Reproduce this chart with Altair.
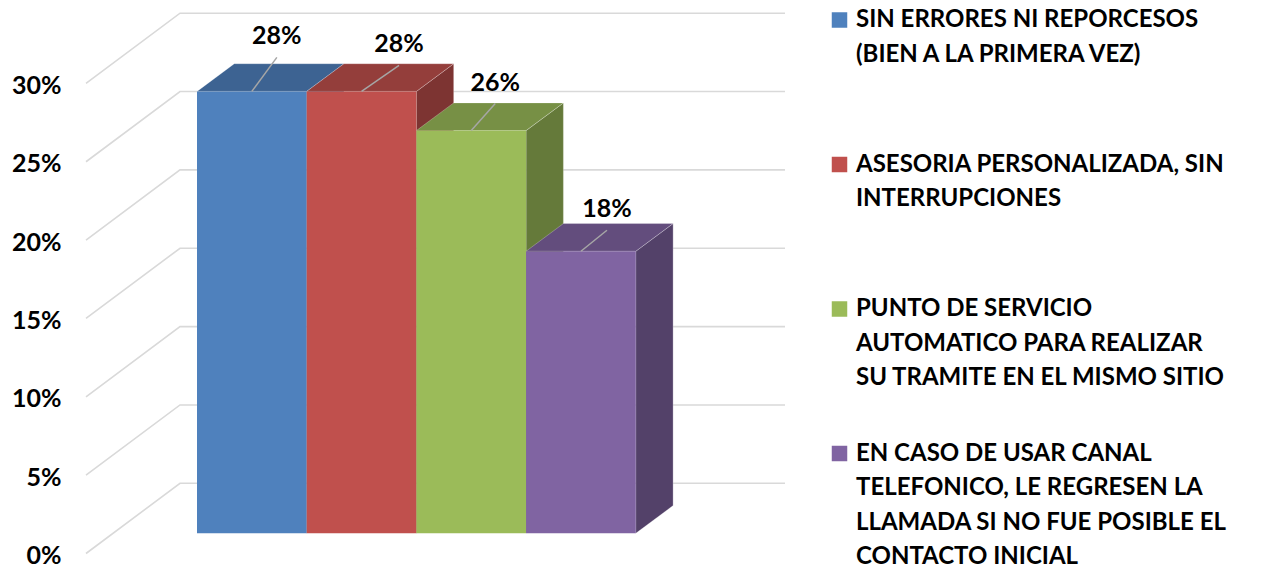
import altair as alt
import pandas as pd

# ---------------- data ----------------
categories = [
    "SIN ERRORES NI REPORCESOS (BIEN A LA PRIMERA VEZ)",
    "ASESORIA PERSONALIZADA, SIN INTERRUPCIONES",
    "PUNTO DE SERVICIO AUTOMATICO PARA REALIZAR SU TRAMITE EN EL MISMO SITIO",
    "EN CASO DE USAR CANAL TELEFONICO, LE REGRESEN LA LLAMADA SI NO FUE POSIBLE EL CONTACTO INICIAL",
]
values = [28.2, 28.2, 25.7, 18.0]
value_labels = ["28%", "28%", "26%", "18%"]
legend_lines = [
    ["SIN ERRORES NI REPORCESOS", "(BIEN A LA PRIMERA VEZ)"],
    ["ASESORIA PERSONALIZADA, SIN", "INTERRUPCIONES"],
    ["PUNTO DE SERVICIO", "AUTOMATICO PARA REALIZAR", "SU TRAMITE EN EL MISMO SITIO"],
    ["EN CASO DE USAR CANAL", "TELEFONICO, LE REGRESEN LA",
     "LLAMADA SI NO FUE POSIBLE EL", "CONTACTO INICIAL"],
]
axis_ticks = [0, 5, 10, 15, 20, 25, 30]

# ---------------- style ----------------
front_colors = ["#4F81BD", "#C0504D", "#9BBB59", "#8064A2"]
top_colors = ["#3D6392", "#943E3B", "#779045", "#634D7D"]
side_colors = ["#33537B", "#7D3432", "#657A3A", "#534169"]
GRID = "#D9D9D9"
LEADER = "#A6A6A6"
FONT = "Lato"

# ---------------- layout (pixels) ----------------
W, H = 1183, 555
K = 15.67            # px per percentage point
FLOOR_Y = 545.5      # plot-y (px) of 0% at the front edge of the floor
YMIN = (FLOOR_Y - H) / K
YMAX = FLOOR_Y / K

def pct(px):
    return px / K

GRID_X0, WALL_DX, WALL_DY, GRID_X1 = 16, 94, 70.2, 715
BAR_X0, BAR_W, BAR_BASE = 127, 109.7, 20.2
DEPTH_DX, DEPTH_DY = 37.3, 27.7
LABEL_DX = [25, 37.5, 24, 26]
LABEL_DY = [55, 47, 48, 42]
LEADER_GAP = 21
LEG_SQ_X, LEG_TX, LEG_Y0, LEG_STEP, LINE_H = 769.5, 786, 12, 144.5, 34.5

xs = alt.Scale(domain=[0, W], nice=False, zero=False)
ys = alt.Scale(domain=[YMIN, YMAX], nice=False, zero=False)
Y_AXIS = alt.Axis(values=axis_ticks, labelExpr="datum.value + '%'",
                  domain=False, ticks=False, grid=False, title=None,
                  labelFont=FONT, labelFontSize=25, labelFontWeight="bold",
                  labelColor="#000000", labelPadding=9, labelOffset=2)

def Y(field):
    return alt.Y(field, scale=ys, axis=Y_AXIS, stack=False)

def X(field):
    return alt.X(field, scale=xs, axis=None, stack=False)

# ---------------- tables ----------------
grid_rows = []
for v in axis_ticks:
    grid_rows += [
        {"tick": v, "o": 0, "x": GRID_X0, "y": v},
        {"tick": v, "o": 1, "x": GRID_X0 + WALL_DX, "y": v + pct(WALL_DY)},
        {"tick": v, "o": 2, "x": GRID_X1, "y": v + pct(WALL_DY)},
    ]
grid_df = pd.DataFrame(grid_rows)

front_rows, top_rows, side_rows, lab_rows = [], [], [], []
b0, dd = pct(BAR_BASE), pct(DEPTH_DY)
for i, (cat, v) in enumerate(zip(categories, values)):
    L = BAR_X0 + i * BAR_W
    R = L + BAR_W
    front_rows.append({"bar": i, "x": L, "x2": R, "y": b0, "y2": v + b0,
                       "color": front_colors[i]})
    top_rows += [
        {"bar": i, "y": v + b0, "x": L, "x2": R, "color": top_colors[i]},
        {"bar": i, "y": v + b0 + dd, "x": L + DEPTH_DX, "x2": R + DEPTH_DX,
         "color": top_colors[i]},
    ]
    side_rows += [
        {"bar": i, "x": R, "y": b0, "y2": v + b0, "color": side_colors[i]},
        {"bar": i, "x": R + DEPTH_DX, "y": b0 + dd, "y2": v + b0 + dd,
         "color": side_colors[i]},
    ]
    cx = (L + R) / 2
    lx = cx + LABEL_DX[i]
    ly = v + b0 + pct(LABEL_DY[i])
    lab_rows.append({"bar": i, "label": value_labels[i], "lx": lx, "ly": ly,
                     "x0": cx, "y0": v + b0, "x1": lx, "y1": ly - pct(LEADER_GAP)})
front_df = pd.DataFrame(front_rows)
top_df = pd.DataFrame(top_rows)
side_df = pd.DataFrame(side_rows)
lab_df = pd.DataFrame(lab_rows)

leg_sq, leg_tx = [], []
for i, lines in enumerate(legend_lines):
    yc = LEG_Y0 + i * LEG_STEP
    leg_sq.append({"x": LEG_SQ_X, "y": (FLOOR_Y - yc) / K, "color": front_colors[i]})
    for j, t in enumerate(lines):
        leg_tx.append({"x": LEG_TX, "y": (FLOOR_Y - (yc + j * LINE_H)) / K, "text": t})
leg_sq_df = pd.DataFrame(leg_sq)
leg_tx_df = pd.DataFrame(leg_tx)

# ---------------- layers ----------------
grid = alt.Chart(grid_df).mark_line(color=GRID, strokeWidth=1.6).encode(
    x=X("x:Q"), y=Y("y:Q"), detail="tick:N", order="o:Q",
)

sides = alt.Chart(side_df).mark_area(orient="vertical", stroke="#FFFFFF",
                                     strokeOpacity=0.25, strokeWidth=1).encode(
    x=X("x:Q"), y=Y("y:Q"), y2="y2:Q", detail="bar:N",
    color=alt.Color("color:N", scale=None),
)

tops = alt.Chart(top_df).mark_area(orient="horizontal", stroke="#FFFFFF",
                                   strokeOpacity=0.25, strokeWidth=1).encode(
    y=Y("y:Q"), x=X("x:Q"), x2="x2:Q", detail="bar:N",
    color=alt.Color("color:N", scale=None),
)

fronts = alt.Chart(front_df).mark_rect().encode(
    x=X("x:Q"), x2="x2:Q", y=Y("y:Q"), y2="y2:Q",
    color=alt.Color("color:N", scale=None),
)

leaders = alt.Chart(lab_df).mark_rule(color=LEADER, strokeWidth=1.5).encode(
    x=X("x0:Q"), y=Y("y0:Q"), x2="x1:Q", y2="y1:Q",
)

labels = alt.Chart(lab_df).mark_text(font=FONT, fontSize=25, fontWeight="bold",
                                     color="#000000", baseline="middle",
                                     align="center").encode(
    x=X("lx:Q"), y=Y("ly:Q"), text="label:N",
)

leg_squares = alt.Chart(leg_sq_df).mark_square(size=240, opacity=1).encode(
    x=X("x:Q"), y=Y("y:Q"), color=alt.Color("color:N", scale=None),
)

leg_texts = alt.Chart(leg_tx_df).mark_text(font=FONT, fontSize=24, fontWeight="bold",
                                           color="#000000", align="left",
                                           baseline="middle").encode(
    x=X("x:Q"), y=Y("y:Q"), text="text:N",
)

chart = alt.layer(
    grid, sides, tops, fronts, leaders, labels, leg_squares, leg_texts
).properties(
    width=W, height=H,
    autosize=alt.AutoSizeParams(type="none"),
    padding={"left": 62, "top": 0, "right": 0, "bottom": 8},
    background="#FFFFFF",
).configure_view(stroke=None)

chart.save("out.html", embed_options={"renderer": "svg", "actions": False})
